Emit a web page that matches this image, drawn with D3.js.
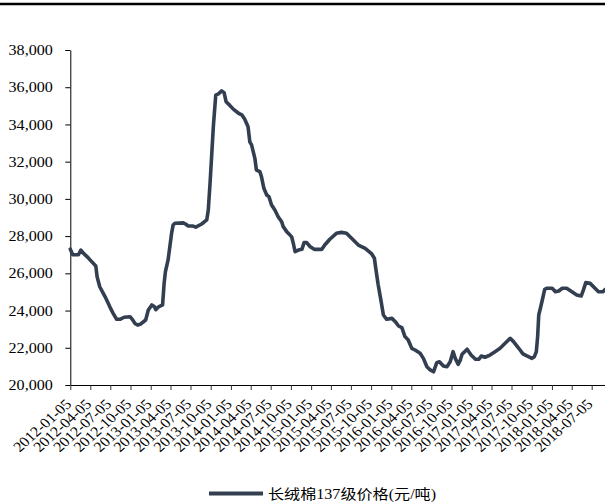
<!DOCTYPE html>
<html>
<head>
<meta charset="utf-8">
<script src="https://cdn.jsdelivr.net/npm/d3@7/dist/d3.min.js"></script>
<style>
  html, body { margin: 0; padding: 0; background: #fff; }
  svg { display: block; }
</style>
</head>
<body>
<svg id="chart" width="605" height="503"></svg>
<script>
// Weekly price of long-staple cotton grade 137 (yuan/ton)
const seriesName = "长绒棉137级价格(元/吨)";

const tickLabels = [
  "2012-01-05", "2012-04-05", "2012-07-05", "2012-10-05",
  "2013-01-05", "2013-04-05", "2013-07-05", "2013-10-05",
  "2014-01-05", "2014-04-05", "2014-07-05", "2014-10-05",
  "2015-01-05", "2015-04-05", "2015-07-05", "2015-10-05",
  "2016-01-05", "2016-04-05", "2016-07-05", "2016-10-05",
  "2017-01-05", "2017-04-05", "2017-07-05", "2017-10-05",
  "2018-01-05", "2018-04-05", "2018-07-05"
];

const yTicks = [20000, 22000, 24000, 26000, 28000, 30000, 32000, 34000, 36000, 38000];

const dates = [
  "2012-01-05", "2012-01-16", "2012-02-11", "2012-02-22", "2012-03-03", "2012-03-21",
  "2012-04-11", "2012-04-30", "2012-05-06", "2012-05-18", "2012-06-11", "2012-07-03",
  "2012-07-18", "2012-08-03", "2012-08-18", "2012-09-06", "2012-10-03", "2012-10-13",
  "2012-10-25", "2012-11-06", "2012-11-18", "2012-12-03", "2012-12-13", "2012-12-25",
  "2013-01-10", "2013-01-22", "2013-01-28", "2013-02-10", "2013-02-28", "2013-03-07",
  "2013-03-13", "2013-03-25", "2013-04-02", "2013-04-10", "2013-04-17", "2013-04-25",
  "2013-06-02", "2013-06-13", "2013-06-25", "2013-07-17", "2013-07-29", "2013-08-25",
  "2013-09-17", "2013-09-24", "2013-10-02", "2013-10-10", "2013-10-17", "2013-10-28",
  "2013-11-09", "2013-11-24", "2013-12-05", "2013-12-14", "2013-12-29", "2014-01-17",
  "2014-02-09", "2014-02-24", "2014-03-09", "2014-03-24", "2014-04-01", "2014-04-09",
  "2014-04-24", "2014-05-01", "2014-05-17", "2014-05-24", "2014-06-04", "2014-06-17",
  "2014-06-27", "2014-07-09", "2014-07-24", "2014-08-08", "2014-08-24", "2014-08-31",
  "2014-09-16", "2014-10-01", "2014-10-09", "2014-10-16", "2014-10-24", "2014-11-08",
  "2014-11-24", "2014-12-04", "2014-12-16", "2015-01-01", "2015-01-19", "2015-02-23",
  "2015-03-08", "2015-03-31", "2015-04-30", "2015-05-23", "2015-06-15", "2015-07-08",
  "2015-08-08", "2015-09-08", "2015-10-08", "2015-10-20", "2015-10-27", "2015-11-06",
  "2015-11-18", "2015-11-30", "2015-12-15", "2016-01-08", "2016-01-23", "2016-02-07",
  "2016-02-22", "2016-03-07", "2016-03-22", "2016-04-07", "2016-04-22", "2016-05-15",
  "2016-05-30", "2016-06-15", "2016-06-30", "2016-07-15", "2016-07-30", "2016-08-11",
  "2016-08-29", "2016-09-14", "2016-09-29", "2016-10-12", "2016-10-22", "2016-11-04",
  "2016-11-14", "2016-11-22", "2016-12-15", "2017-01-02", "2017-01-22", "2017-02-06",
  "2017-02-18", "2017-03-06", "2017-03-29", "2017-04-21", "2017-05-14", "2017-06-06",
  "2017-06-29", "2017-07-14", "2017-08-01", "2017-08-13", "2017-08-26", "2017-09-13",
  "2017-10-06", "2017-10-17", "2017-10-26", "2017-11-01", "2017-11-06", "2017-11-17",
  "2017-11-24", "2017-12-03", "2017-12-14", "2018-01-06", "2018-01-21", "2018-02-05",
  "2018-02-21", "2018-03-13", "2018-04-06", "2018-04-28", "2018-05-18", "2018-05-28",
  "2018-06-08", "2018-06-28", "2018-07-20", "2018-08-05", "2018-08-25", "2018-09-05"
];

const prices = [
  27300, 27000, 27000, 27250, 27100, 26900,
  26630, 26400, 25820, 25280, 24750, 24200,
  23850, 23530, 23530, 23640, 23670, 23530,
  23310, 23220, 23260, 23400, 23490, 24030,
  24300, 24200, 24050, 24200, 24300, 25460,
  26090, 26720, 27430, 28150, 28600, 28690,
  28710, 28650, 28540, 28540, 28480, 28650,
  28870, 29400, 30840, 32450, 33880, 35580,
  35640, 35800, 35710, 35220, 35050, 34810,
  34600, 34510, 34280, 33880, 33070, 32900,
  32180, 31550, 31460, 31190, 30570, 30210,
  30120, 29670, 29400, 29040, 28770, 28510,
  28240, 28060, 27940, 27610, 27160, 27250,
  27290, 27650, 27650, 27430, 27290, 27290,
  27520, 27830, 28150, 28200, 28150, 27880,
  27520, 27340, 27040, 26810, 26200, 25400,
  24600, 23760, 23530, 23580, 23400, 23170,
  23080, 22600, 22420, 21970, 21880, 21700,
  21430, 20980, 20810, 20710, 21200, 21250,
  21020, 20980, 21250, 21790, 21430, 21110,
  21340, 21650, 21920, 21610, 21380, 21380,
  21560, 21490, 21610, 21790, 21970, 22240,
  22510, 22330, 22060, 21880, 21670, 21560,
  21430, 21520, 21790, 22600, 23760, 24300,
  24660, 25140, 25200, 25200, 25010, 25050,
  25200, 25200, 25010, 24840, 24780, 25100,
  25500, 25460, 25200, 25010, 25010, 25140
];

const parse = d3.timeParse("%Y-%m-%d");
const fmt = d3.timeFormat("%Y-%m-%d");
const tickDates = tickLabels.map(parse);
const data = dates.map((d, i) => ({ date: parse(d), value: prices[i] }));

const lineColor = "#333f50";
const labelFont = "'Liberation Serif', 'Times New Roman', serif";

const svg = d3.select("#chart");

// top rule
svg.append("line")
  .attr("x1", 0).attr("x2", 605)
  .attr("y1", 4).attr("y2", 4)
  .attr("stroke", "#000").attr("stroke-width", 2.6);

const x = d3.scaleTime()
  .domain([tickDates[0], tickDates[tickDates.length - 1]])
  .range([70.3, 591.7]);

// axis scale runs on to the right edge of the page
const xAxisScale = x.copy()
  .domain([x.invert(70.3), x.invert(606)])
  .range([70.3, 606]);

const y = d3.scaleLinear().domain([20000, 38000]).range([385, 50]);

// y axis
const yAxis = svg.append("g")
  .attr("transform", "translate(70.3,0)")
  .call(d3.axisLeft(y).tickValues(yTicks).tickSize(5).tickSizeOuter(0)
    .tickFormat(d3.format(",")));
yAxis.select(".domain").attr("stroke", "#000");
yAxis.selectAll(".tick line").attr("stroke", "#000");
yAxis.selectAll(".tick text").remove();
yAxis.selectAll(".tick").append("text")
  .attr("transform", "translate(-17.5,0) scale(1.15,1)")
  .attr("text-anchor", "end")
  .attr("dy", "0.33em")
  .attr("fill", "#000")
  .style("font-family", labelFont)
  .style("font-size", "14px")
  .text(d => d3.format(",")(d));

// x axis
const xAxis = svg.append("g")
  .attr("transform", "translate(0,385)")
  .call(d3.axisBottom(xAxisScale).tickValues(tickDates).tickSize(5).tickSizeOuter(0)
    .tickFormat(fmt));
xAxis.select(".domain").attr("stroke", "#000");
xAxis.selectAll(".tick line").attr("stroke", "#333");
xAxis.selectAll(".tick text").remove();
xAxis.selectAll(".tick").append("text")
  .attr("transform", "translate(1.5,20) scale(1.1,1) rotate(-45)")
  .attr("text-anchor", "end")
  .attr("fill", "#000")
  .style("font-family", labelFont)
  .style("font-size", "14.5px")
  .text(d => fmt(d));

// price line
const line = d3.line()
  .x(d => x(d.date))
  .y(d => y(d.value))
  .curve(d3.curveLinear);

svg.append("path")
  .datum(data)
  .attr("d", line)
  .attr("fill", "none")
  .attr("stroke", lineColor)
  .attr("stroke-width", 3.6)
  .attr("stroke-linejoin", "round")
  .attr("stroke-linecap", "round");

// legend
const legend = svg.append("g").attr("transform", "translate(209,493.5)");
legend.append("line")
  .attr("x1", 0).attr("x2", 54)
  .attr("y1", 0).attr("y2", 0)
  .attr("stroke", lineColor)
  .attr("stroke-width", 4);
legend.append("text")
  .attr("transform", "translate(59,0) scale(1.15,1)")
  .attr("dy", "0.36em")
  .attr("fill", "#000")
  .style("font-family", "'Liberation Serif', 'Noto Sans CJK SC', serif")
  .style("font-size", "14px")
  .text(seriesName);
</script>
</body>
</html>
